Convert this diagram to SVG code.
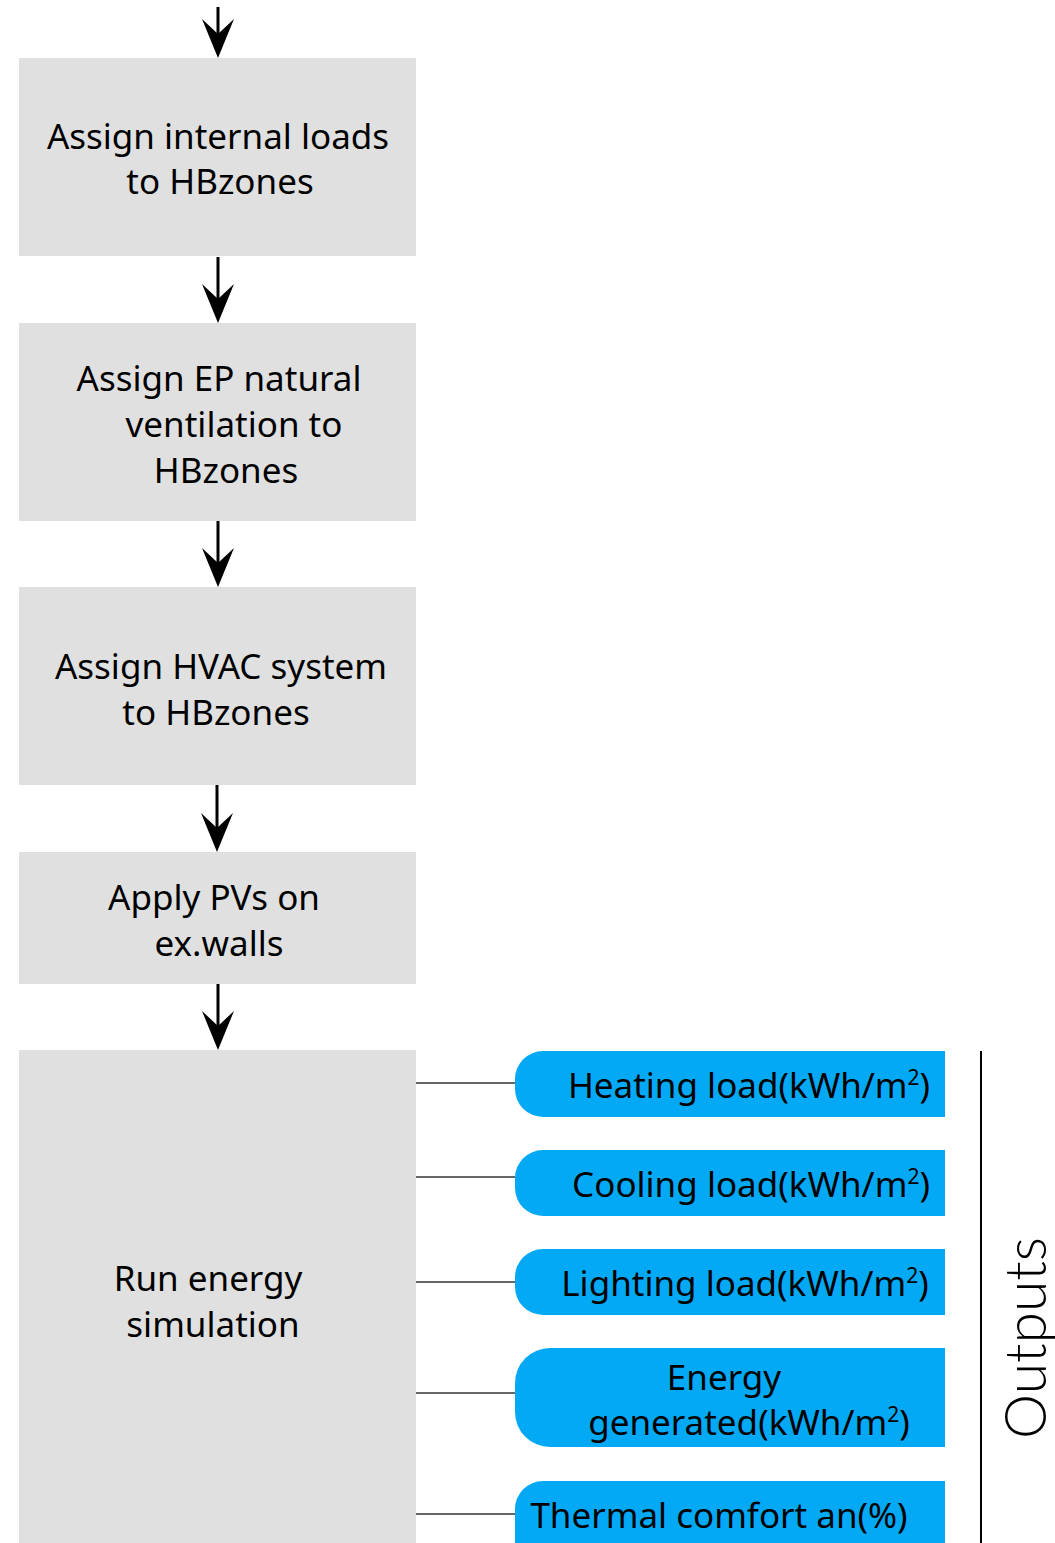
<svg xmlns="http://www.w3.org/2000/svg" width="1055" height="1543" viewBox="0 0 1055 1543">
  <style>
    .step { fill: #e0e0e0; }
    .out { fill: #03a9f4; }
    .lbl { font-family: "Noto Sans", "Open Sans", sans-serif; font-size: 35px; fill: #000; text-anchor: middle; }
    .sup { font-size: 21px; }
    .flow { stroke: #000; stroke-width: 3; fill: none; marker-end: url(#head); }
    .tie { stroke: #333; stroke-width: 1.5; fill: none; }
    .bracket { stroke: #000; stroke-width: 2; fill: none; }
    .side { font-family: "Lato", "Open Sans", sans-serif; font-weight: 300; font-size: 57px; fill: #000; text-anchor: middle; }
  </style>
  <defs>
    <marker id="head" markerUnits="userSpaceOnUse" viewBox="-16 -17 42 34" markerWidth="42" markerHeight="34" refX="0" refY="0" orient="auto">
      <path d="M24,0 L-15,-16 L0,0 L-15,16 Z" fill="#000"/>
    </marker>
  </defs>

  <!-- process steps -->
  <g id="step-internal-loads">
    <rect class="step" x="19" y="58" width="397" height="198"/>
    <text class="lbl" x="218" y="149">Assign internal loads</text>
    <text class="lbl" x="220" y="194">to HBzones</text>
  </g>
  <g id="step-natural-ventilation">
    <rect class="step" x="19" y="323" width="397" height="198"/>
    <text class="lbl" x="219" y="391">Assign EP natural</text>
    <text class="lbl" x="234" y="437">ventilation to</text>
    <text class="lbl" x="226" y="483">HBzones</text>
  </g>
  <g id="step-hvac">
    <rect class="step" x="19" y="587" width="397" height="198"/>
    <text class="lbl" x="221" y="679">Assign HVAC system</text>
    <text class="lbl" x="216" y="725">to HBzones</text>
  </g>
  <g id="step-pv">
    <rect class="step" x="19" y="852" width="397" height="132"/>
    <text class="lbl" x="214" y="910">Apply PVs on</text>
    <text class="lbl" x="219" y="956">ex.walls</text>
  </g>
  <g id="step-simulation">
    <rect class="step" x="19" y="1050" width="397" height="500"/>
    <text class="lbl" x="208" y="1291">Run energy</text>
    <text class="lbl" x="213" y="1337">simulation</text>
  </g>

  <!-- simulation outputs -->
  <g id="out-heating">
    <path class="out" d="M945,1051 H543 A28,28 0 0 0 515,1079 V1089 A28,28 0 0 0 543,1117 H945 Z"/>
    <text class="lbl" x="749" y="1098">Heating load(kWh/m<tspan class="sup" dy="-13">2</tspan><tspan dy="13">)</tspan></text>
  </g>
  <g id="out-cooling">
    <path class="out" d="M945,1150 H543 A28,28 0 0 0 515,1178 V1188 A28,28 0 0 0 543,1216 H945 Z"/>
    <text class="lbl" x="751" y="1197">Cooling load(kWh/m<tspan class="sup" dy="-13">2</tspan><tspan dy="13">)</tspan></text>
  </g>
  <g id="out-lighting">
    <path class="out" d="M945,1249 H543 A28,28 0 0 0 515,1277 V1287 A28,28 0 0 0 543,1315 H945 Z"/>
    <text class="lbl" x="745" y="1296">Lighting load(kWh/m<tspan class="sup" dy="-13">2</tspan><tspan dy="13">)</tspan></text>
  </g>
  <g id="out-energy">
    <path class="out" d="M945,1348 H550 A35,35 0 0 0 515,1383 V1412 A35,35 0 0 0 550,1447 H945 Z"/>
    <text class="lbl" x="724" y="1390">Energy</text>
    <text class="lbl" x="749" y="1435">generated(kWh/m<tspan class="sup" dy="-13">2</tspan><tspan dy="13">)</tspan></text>
  </g>
  <g id="out-comfort">
    <path class="out" d="M945,1481 H543 A28,28 0 0 0 515,1509 V1560 H945 Z"/>
    <text class="lbl" x="719" y="1528">Thermal comfort an(%)</text>
  </g>

  <!-- outputs bracket -->
  <g id="outputs-label">
    <line class="bracket" x1="981" y1="1051" x2="981" y2="1543"/>
    <text class="side" transform="translate(1046,1338) rotate(-90)">Outputs</text>
  </g>

  <!-- connectors -->
  <g id="connectors">
    <line class="flow" x1="218" y1="7" x2="218" y2="34"/>
    <line class="flow" x1="218" y1="257" x2="218" y2="299"/>
    <line class="flow" x1="218" y1="521" x2="218" y2="563"/>
    <line class="flow" x1="217" y1="785" x2="217" y2="828"/>
    <line class="flow" x1="218" y1="984" x2="218" y2="1026"/>
    <line class="tie" x1="416" y1="1083" x2="515" y2="1083"/>
    <line class="tie" x1="416" y1="1177" x2="515" y2="1177"/>
    <line class="tie" x1="416" y1="1282" x2="515" y2="1282"/>
    <line class="tie" x1="416" y1="1393" x2="515" y2="1393"/>
    <line class="tie" x1="416" y1="1514" x2="515" y2="1514"/>
  </g>
</svg>
